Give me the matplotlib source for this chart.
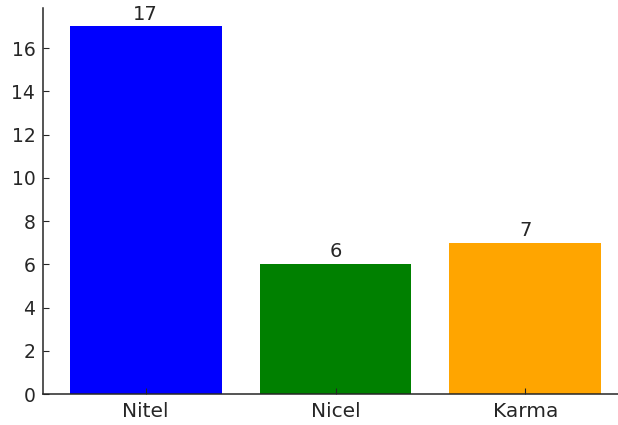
import matplotlib.pyplot as plt

categories = ['Nitel', 'Nicel', 'Karma']
counts = [17, 6, 7]
colors = ['blue', 'green', 'orange']

fig = plt.figure(figsize=(6.18, 4.25), dpi=100)
ax = fig.add_axes([43 / 618, 31 / 425, 585 / 618, 386 / 425])

bars = ax.bar(categories, counts, color=colors, width=0.8)
for b, v in zip(bars, counts):
    ax.annotate(str(v), (b.get_x() + b.get_width() / 2, v), xytext=(0, 2),
                textcoords='offset points', ha='center', va='bottom',
                fontsize=14, color='#262626')

ax.set_ylim(0, 17.85)
ax.set_xlim(-0.54, 2.54)
for s in ['top', 'right']:
    ax.spines[s].set_visible(False)
for s in ['left', 'bottom']:
    ax.spines[s].set_color('#262626')
    ax.spines[s].set_linewidth(1.1)
ax.tick_params(colors='#262626', direction='in', length=4.5, pad=5.5)
ax.tick_params(axis='x', labelsize=14.5)
ax.tick_params(axis='y', labelsize=13.5)

fig.savefig('out.png', dpi=100)
